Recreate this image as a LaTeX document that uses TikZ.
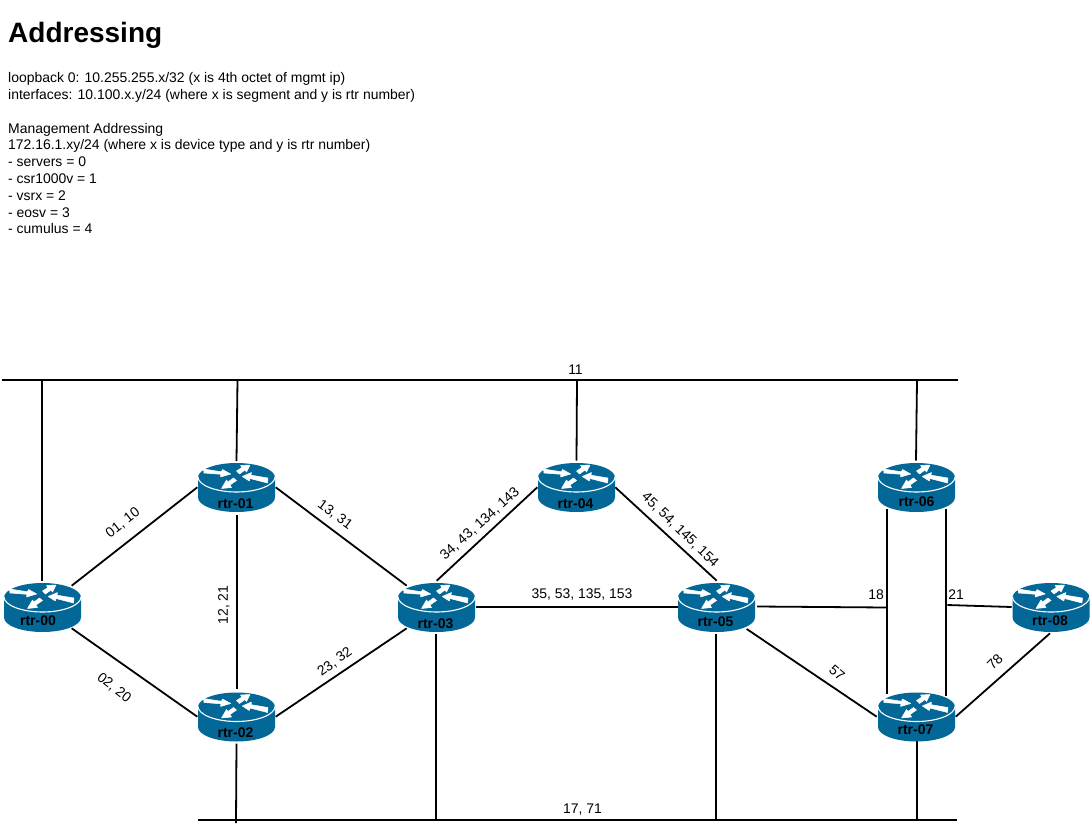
\documentclass[tikz,border=0pt]{standalone}
\usepackage{fontspec}
\setmainfont{Liberation Sans}
\usetikzlibrary{calc}
\definecolor{rtrblue}{HTML}{036897}
\tikzset{
  link/.style={draw=black,line width=1.8pt},
  rtrbox/.style={rectangle,minimum width=77pt,minimum height=49pt,inner sep=0pt,outer sep=0pt},
  rtrtext/.style={font=\fontsize{14}{16.8}\selectfont\bfseries,text=black,inner sep=0pt},
  lbl/.style={font=\fontsize{13.95}{16.8}\selectfont,text=black,inner sep=0pt},
  arrowshape/.style={fill=white,draw=white,line width=0.5pt,line join=round},
}
% #1 node name, #2 x, #3 y, #4 text, #5 text dx, #6 text dy
\newcommand{\rtrnode}[6]{%
  \node[rtrbox] (#1) at (#2,#3) {};
  \begin{scope}[shift={(#2,#3)}]
    \fill[rtrblue] (-38.5,-10) .. controls (-38.5,-18) and (-21.26,-24.5) .. (0,-24.5)
      .. controls (21.26,-24.5) and (38.5,-18) .. (38.5,-10) -- (38.5,10)
      .. controls (38.5,18) and (21.26,24.5) .. (0,24.5)
      .. controls (-21.26,24.5) and (-38.5,18) .. (-38.5,10) -- cycle;
    \draw[white,line width=1.1pt] (-38.5,-10.5) .. controls (-38.5,-2.5) and (-21.26,4.5) .. (0,4.5)
      .. controls (21.26,4.5) and (38.5,-2.5) .. (38.5,-10.5);
    \path[arrowshape] (-33,-18.5) -- (-15,-15.7) -- (-14,-18) -- (-5.8,-13.5) -- (-16,-10.5) -- (-15.5,-13.2) -- (-32.5,-14.5) -- cycle;
    \path[arrowshape] (31.5,-9.5) -- (14.5,-12.3) -- (15,-15) -- (5.8,-11) -- (12.8,-6.5) -- (13.5,-9) -- (31,-4.5) -- cycle;
    \path[arrowshape] (0,-16.5) -- (5.5,-20) -- (4,-22) -- (13.5,-22.5) -- (10,-15.5) -- (8.5,-17.5) -- (3,-13.5) -- cycle;
    \path[arrowshape] (-3,-9.5) -- (-8.5,-5.5) -- (-10,-7.5) -- (-15,1) -- (-5,0) -- (-6.5,-2.5) -- (0,-7) -- cycle;
  \end{scope}
  \node[rtrtext] (#1t) at (#2+#5,#3+#6+0.8) {#4};
}
\begin{document}
\begin{tikzpicture}[x=1pt,y=-1pt]
\useasboundingbox (0,0) rectangle (1091,826);
\fill[white] (0,0) rectangle (1091,826);

\node[anchor=west,inner sep=0pt,font=\fontsize{28}{33.6}\selectfont\bfseries] (title) at (8,35.3) {Addressing};
\node[anchor=north west,inner sep=0pt,align=left,font=\fontsize{13.95}{16.8}\selectfont] (notes) at (8,72.3) {loopback 0: 10.255.255.x/32 (x is 4th octet of mgmt ip)\\
interfaces: 10.100.x.y/24 (where x is segment and y is rtr number)\\
\mbox{}\\
Management Addressing\\
172.16.1.xy/24 (where x is device type and y is rtr number)\\
- servers = 0\\
- csr1000v = 1\\
- vsrx = 2\\
- eosv = 3\\
- cumulus = 4};

\coordinate (topL) at (1.5,380);
\coordinate (topR) at (958,380);
\coordinate (botL) at (198,820);
\coordinate (botR) at (957,820);

\rtrnode{r0}{42.5}{607.5}{rtr-00}{-4.5}{12.5}
\rtrnode{r1}{236.5}{487.5}{rtr-01}{-1}{15}
\rtrnode{r2}{236.5}{717}{rtr-02}{-1}{15}
\rtrnode{r3}{436.5}{607.5}{rtr-03}{-1}{15}
\rtrnode{r4}{576.5}{487.5}{rtr-04}{-1}{15}
\rtrnode{r5}{716.5}{607.5}{rtr-05}{-1}{13}
\rtrnode{r6}{916.5}{487.5}{rtr-06}{0}{13.5}
\rtrnode{r7}{916.5}{717}{rtr-07}{-1}{12}
\rtrnode{r8}{1051}{607.5}{rtr-08}{-1}{12.5}

\draw[link] (topL) -- (topR);
\draw[link] (botL) -- (botR);

% links to the top segment
\draw[link] ($(r0 |- topL)+(-0.5,0)$) -- ($(r0)+(-0.5,-26.5)$);
\draw[link] ($(r1 |- topL)+(1,0)$) -- ($(r1)+(0,-26.5)$);
\draw[link] ($(r4 |- topL)+(0.5,0)$) -- ($(r4)+(0,-27)$);
\draw[link] ($(r6 |- topL)+(0.5,0)$) -- ($(r6)+(-0.5,-27)$);

% links to the bottom segment
\draw[link] ($(r2)+(0,26.5)$) -- ($(r2 |- botL)+(-0.5,3)$);
\draw[link] ($(r3)+(-0.5,26.5)$) -- ($(r3 |- botL)+(-0.5,0)$);
\draw[link] ($(r5)+(-0.5,26.5)$) -- ($(r5 |- botL)+(-0.5,0)$);
\draw[link] ($(r7)+(0.5,24)$) -- ($(r7 |- botL)+(0.5,0)$);

% router to router
\draw[link] ($(r1)+(0.5,27.5)$) -- ($(r2)+(0.5,-28)$);
\draw[link] ($(r0)+(29.2,-21.8)$) -- ($(r1)+(-39.2,-0.2)$);
\draw[link] ($(r0)+(29.2,20.8)$) -- ($(r2)+(-39.2,-0.3)$);
\draw[link] ($(r1)+(39.2,-0.2)$) -- ($(r3)+(-29.8,-21.8)$);
\draw[link] ($(r2)+(39.2,-0.3)$) -- ($(r3)+(-29.8,20.8)$);
\draw[link] ($(r3)+(0.2,-26.8)$) -- ($(r4)+(-39.2,-0.2)$);
\draw[link] ($(r4)+(38.8,-0.2)$) -- ($(r5)+(0.2,-26.8)$);
\draw[link] ($(r3)+(39.5,-0.5)$) -- ($(r5)+(-38.8,-0.5)$);
\draw[link] ($(r5)+(40.5,-1)$) -- ($(r6 |- r5)+(-29.8,0)$);
\draw[link] ($(r6)+(-29.5,21.5)$) -- ($(r7)+(-29.5,-23)$);
\draw[link] ($(r6)+(29.5,21)$) -- ($(r7)+(29.5,-21)$);
\draw[link] ($(r6 |- r8)+(30.8,-2.5)$) -- ($(r8)+(-39.3,-0.5)$);
\draw[link] ($(r5)+(30.2,21.5)$) -- ($(r7)+(-39.8,-0.3)$);
\draw[link] ($(r7)+(39.2,-0.3)$) -- ($(r8)+(-1,25.8)$);

% labels
\node[lbl] (l11) at (575.5,370) {11};
\node[lbl] (l17) at (582.5,810) {17, 71};
\node[lbl] (l18) at (876,595) {18};
\node[lbl] (l21b) at (956,595) {21};
\node[lbl,rotate=38] (l01) at (123,523) {01, 10};
\node[lbl,rotate=-38] (l02) at (114,688) {02, 20};
\node[lbl,rotate=90] (l12) at (224,605) {12, 21};
\node[lbl,rotate=-36] (l13) at (335,515) {13, 31};
\node[lbl,rotate=36] (l23) at (335,662) {23, 32};
\node[lbl,rotate=42] (l34) at (480,524) {34, 43, 134, 143};
\node[lbl,rotate=-44] (l45) at (680,530) {45, 54, 145, 154};
\node[lbl] (l35) at (582,595) {35, 53, 135, 153};
\node[lbl,rotate=-40] (l57) at (837,673) {57};
\node[lbl,rotate=45] (l78) at (995,662) {78};
\end{tikzpicture}
\end{document}
